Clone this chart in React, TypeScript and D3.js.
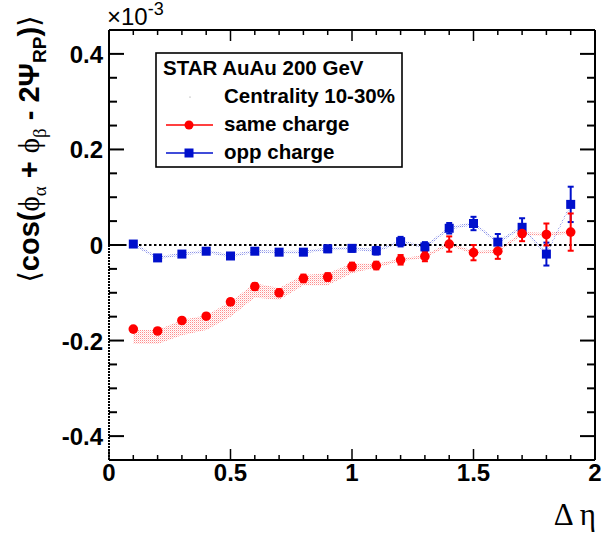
import React from "react";
import * as d3 from "d3";

const deta = [0.1, 0.2, 0.3, 0.4, 0.5, 0.6, 0.7, 0.8, 0.9, 1.0, 1.1, 1.2, 1.3, 1.4, 1.5, 1.6, 1.7, 1.8, 1.9];
const sameVal = [-0.176, -0.180, -0.158, -0.149, -0.119, -0.087, -0.100, -0.070, -0.067, -0.045, -0.043, -0.031, -0.024, 0.002, -0.016, -0.013, 0.024, 0.022, 0.027];
const sameErr = [0.004, 0.005, 0.005, 0.005, 0.006, 0.007, 0.007, 0.008, 0.008, 0.008, 0.008, 0.010, 0.010, 0.016, 0.016, 0.016, 0.016, 0.023, 0.039];
const sameSysHigh = [-0.178, -0.178, -0.157, -0.147, -0.119, -0.080, -0.090, -0.063, -0.059, -0.038, -0.040, -0.028, -0.021, 0.005, -0.013, -0.010, 0.027, 0.025, 0.030];
const sameSysLow = [-0.207, -0.207, -0.189, -0.178, -0.150, -0.110, -0.115, -0.084, -0.084, -0.059, -0.047, -0.034, -0.027, -0.001, -0.019, -0.016, 0.021, 0.019, 0.024];
const oppVal = [0.002, -0.027, -0.019, -0.013, -0.023, -0.013, -0.015, -0.015, -0.008, -0.007, -0.012, 0.007, -0.004, 0.035, 0.045, 0.006, 0.037, -0.019, 0.085];
const oppErr = [0.004, 0.005, 0.005, 0.005, 0.005, 0.005, 0.006, 0.006, 0.007, 0.007, 0.008, 0.010, 0.010, 0.011, 0.014, 0.017, 0.019, 0.024, 0.037];
const oppSysHigh = [0.005, -0.024, -0.016, -0.010, -0.020, -0.010, -0.012, -0.012, -0.005, -0.004, -0.009, 0.010, -0.001, 0.038, 0.048, 0.009, 0.040, -0.016, 0.088];
const oppSysLow = [-0.001, -0.030, -0.022, -0.016, -0.026, -0.016, -0.018, -0.018, -0.011, -0.010, -0.015, 0.004, -0.007, 0.032, 0.042, 0.003, 0.034, -0.022, 0.082];

const xTickLabels = ["0", "0.5", "1", "1.5", "2"];
const yTickLabels = ["-0.4", "-0.2", "0", "0.2", "0.4"];
const legendHeader = "STAR AuAu 200 GeV";
const legendLabels = ["Centrality 10-30%", "same charge", "opp charge"];

const RED = "#ff0000";
const BLUE = "#0010cc";

export default function App() {
  const W = 605, H = 536;
  const x = d3.scaleLinear().domain([0, 2]).range([109, 595]);
  const y = d3.scaleLinear().domain([-0.45, 0.45]).range([460, 30]);

  const xMajor = xTickLabels.map(Number);
  const xMinor = d3.range(0, 21).map((i) => i / 10);
  const yMajor = yTickLabels.map(Number);
  const yMinor = d3.range(-8, 9).map((i) => i * 0.05);

  const bandSame = d3.area<number>()
    .x((_, i) => x(deta[i]))
    .y0((_, i) => y(sameSysLow[i]))
    .y1((_, i) => y(sameSysHigh[i]));
  const bandOpp = d3.area<number>()
    .x((_, i) => x(deta[i]))
    .y0((_, i) => y(oppSysLow[i]))
    .y1((_, i) => y(oppSysHigh[i]));

  const font = "'Liberation Sans', Arial, Helvetica, sans-serif";
  const serif = "'Liberation Serif', 'DejaVu Serif', serif";
  const lf = 20.5;

  return (
    <svg width={W} height={H} style={{ position: "absolute", left: 0, top: 0, background: "#fff" }}>
      <defs>
        <pattern id="pr" width="2" height="2" patternUnits="userSpaceOnUse">
          <rect x="0" y="0" width="1" height="1" fill={RED} opacity={0.45} />
          <rect x="1" y="1" width="1" height="1" fill={RED} opacity={0.15} />
        </pattern>
        <pattern id="pb" width="2" height="2" patternUnits="userSpaceOnUse">
          <rect x="0" y="0" width="1" height="1" fill={BLUE} opacity={0.45} />
          <rect x="1" y="1" width="1" height="1" fill={BLUE} opacity={0.15} />
        </pattern>
      </defs>
      <rect x={0} y={0} width={W} height={H} fill="#fff" />

      {/* systematic bands */}
      <path d={bandSame(deta) || ""} fill="url(#pr)" />
      <path d={bandOpp(deta) || ""} fill="url(#pb)" />

      {/* zero line */}
      <line x1={x(0)} x2={x(2)} y1={y(0)} y2={y(0)} stroke="#000" strokeWidth={2.2} strokeDasharray="2.5,2.5" />

      {/* frame */}
      <line x1={x(0)} x2={x(2)} y1={y(0.45)} y2={y(0.45)} stroke="#000" strokeWidth={2} />
      <line x1={x(0)} x2={x(2)} y1={y(-0.45)} y2={y(-0.45)} stroke="#000" strokeWidth={2} />
      <line x1={x(2)} x2={x(2)} y1={y(0.45)} y2={y(-0.45)} stroke="#000" strokeWidth={2} />
      <line x1={x(0)} x2={x(0)} y1={y(0.45)} y2={y(0)} stroke="#000" strokeWidth={2} />
      <line x1={x(0)} x2={x(0)} y1={y(0)} y2={y(-0.45)} stroke="#000" strokeWidth={2} strokeDasharray="2,1" />

      {/* x ticks */}
      {xMinor.map((v, i) => {
        const major = xMajor.some((m) => Math.abs(m - v) < 1e-9);
        const len = major ? 11 : 5;
        return (
          <g key={"xt" + i}>
            <line x1={x(v)} x2={x(v)} y1={y(-0.45)} y2={y(-0.45) - len} stroke="#000" strokeWidth={1.5} />
            <line x1={x(v)} x2={x(v)} y1={y(0.45)} y2={y(0.45) + len} stroke="#000" strokeWidth={1.5} />
          </g>
        );
      })}
      {/* y ticks */}
      {yMinor.map((v, i) => {
        const major = yMajor.some((m) => Math.abs(m - v) < 1e-9);
        const len = major ? 15 : 8;
        return (
          <g key={"yt" + i}>
            <line x1={x(0)} x2={x(0) + len} y1={y(v)} y2={y(v)} stroke="#000" strokeWidth={2} />
            <line x1={x(2)} x2={x(2) - len} y1={y(v)} y2={y(v)} stroke="#000" strokeWidth={2} />
          </g>
        );
      })}

      {/* tick labels */}
      {xTickLabels.map((t, i) => (
        <text key={"xl" + i} x={x(xMajor[i])} y={481} textAnchor="middle" fontFamily={font} fontWeight="bold" fontSize={24}>{t}</text>
      ))}
      {yTickLabels.map((t, i) => (
        <text key={"yl" + i} x={103} y={y(yMajor[i]) + 9} textAnchor="end" fontFamily={font} fontWeight="bold" fontSize={24}>{t}</text>
      ))}

      {/* x10^-3 */}
      <text x={107} y={25} fontFamily={font} fontSize={24}>
        ×10<tspan dy={-10} fontSize={18}>-3</tspan>
      </text>

      {/* axis titles */}
      <text x={596} y={525} textAnchor="end" fontFamily={serif} fontSize={31}>Δ η</text>
      <text transform="translate(39,149) rotate(-90)" textAnchor="middle" fontFamily={font} fontWeight="bold" fontSize={29}>
        <tspan fontFamily={serif} fontWeight="normal">⟨</tspan>cos(<tspan fontFamily={serif} fontWeight="normal">ϕ</tspan><tspan dy={7} fontFamily={serif} fontWeight="normal" fontSize={19}>α</tspan><tspan dy={-7}> + </tspan><tspan fontFamily={serif} fontWeight="normal">ϕ</tspan><tspan dy={7} fontFamily={serif} fontWeight="normal" fontSize={19}>β</tspan><tspan dy={-7}> - 2Ψ</tspan><tspan dy={7} fontSize={19}>RP</tspan><tspan dy={-7}>)</tspan><tspan fontFamily={serif} fontWeight="normal">⟩</tspan>
      </text>

      {/* error bars */}
      {deta.map((d, i) => (
        <g key={"eo" + i} stroke={BLUE} strokeWidth={2}>
          <line x1={x(d)} x2={x(d)} y1={y(oppVal[i] - oppErr[i])} y2={y(oppVal[i] + oppErr[i])} />
          <line x1={x(d) - 3} x2={x(d) + 3} y1={y(oppVal[i] - oppErr[i])} y2={y(oppVal[i] - oppErr[i])} />
          <line x1={x(d) - 3} x2={x(d) + 3} y1={y(oppVal[i] + oppErr[i])} y2={y(oppVal[i] + oppErr[i])} />
        </g>
      ))}
      {deta.map((d, i) => (
        <g key={"es" + i} stroke={RED} strokeWidth={2}>
          <line x1={x(d)} x2={x(d)} y1={y(sameVal[i] - sameErr[i])} y2={y(sameVal[i] + sameErr[i])} />
          <line x1={x(d) - 3} x2={x(d) + 3} y1={y(sameVal[i] - sameErr[i])} y2={y(sameVal[i] - sameErr[i])} />
          <line x1={x(d) - 3} x2={x(d) + 3} y1={y(sameVal[i] + sameErr[i])} y2={y(sameVal[i] + sameErr[i])} />
        </g>
      ))}
      {/* markers */}
      {deta.map((d, i) => (
        <rect key={"mo" + i} x={x(d) - 4.5} y={y(oppVal[i]) - 4.5} width={9} height={9} fill={BLUE} />
      ))}
      {deta.map((d, i) => (
        <circle key={"ms" + i} cx={x(d)} cy={y(sameVal[i])} r={4.8} fill={RED} />
      ))}

      {/* legend */}
      <rect x={156} y={53} width={246} height={114} fill="#fff" stroke="#000" strokeWidth={1.6} />
      <text x={163} y={75} fontFamily={font} fontWeight="bold" fontSize={lf}>{legendHeader}</text>
      <circle cx={190} cy={97} r={0.6} fill="#888" />
      <text x={224} y={103} fontFamily={font} fontWeight="bold" fontSize={lf}>{legendLabels[0]}</text>
      <line x1={166} x2={213} y1={125} y2={125} stroke={RED} strokeWidth={1.5} />
      <circle cx={189} cy={125} r={4.5} fill={RED} />
      <text x={224} y={131} fontFamily={font} fontWeight="bold" fontSize={lf}>{legendLabels[1]}</text>
      <line x1={166} x2={213} y1={153} y2={153} stroke={BLUE} strokeWidth={1.5} />
      <rect x={189 - 4.5} y={153 - 4.5} width={9} height={9} fill={BLUE} />
      <text x={224} y={159} fontFamily={font} fontWeight="bold" fontSize={lf}>{legendLabels[2]}</text>
    </svg>
  );
}
